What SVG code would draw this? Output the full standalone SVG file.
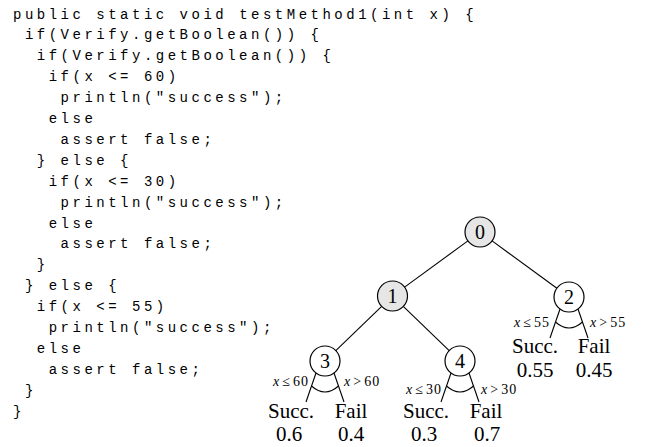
<svg xmlns="http://www.w3.org/2000/svg" width="647" height="447" viewBox="0 0 647 447">
<style>
.code{font-family:"Liberation Mono",monospace;font-size:14px;letter-spacing:3.5px;fill:#000}
.nd{fill:#fff;stroke:#000;stroke-width:1.2}
.nd.g{fill:#e6e6e6}
.num{font-family:"Liberation Serif",serif;font-size:20px;text-anchor:middle;fill:#000}
.lf{font-family:"Liberation Serif",serif;font-size:21px;text-anchor:middle;fill:#000}
.cond{font-family:"Liberation Serif",serif;font-size:14px;fill:#000}
.cond .v{font-style:italic}
.cond .n{letter-spacing:1px}
.e{stroke:#000;stroke-width:1.1;fill:none}
</style>
<rect width="647" height="447" fill="#fff"/>
<g id="code">
<text class="code" x="13" y="18.5">public static void testMethod1(int x) {</text>
<text class="code" x="24.9" y="39.4">if(Verify.getBoolean()) {</text>
<text class="code" x="36.8" y="60.3">if(Verify.getBoolean()) {</text>
<text class="code" x="48.7" y="81.2">if(x &lt;= 60)</text>
<text class="code" x="60.6" y="102.1">println("success");</text>
<text class="code" x="48.7" y="123">else</text>
<text class="code" x="60.6" y="143.9">assert false;</text>
<text class="code" x="36.8" y="164.8">} else {</text>
<text class="code" x="48.7" y="185.7">if(x &lt;= 30)</text>
<text class="code" x="60.6" y="206.6">println("success");</text>
<text class="code" x="48.7" y="227.5">else</text>
<text class="code" x="60.6" y="248.4">assert false;</text>
<text class="code" x="36.8" y="269.3">}</text>
<text class="code" x="24.9" y="290.2">} else {</text>
<text class="code" x="36.8" y="311.1">if(x &lt;= 55)</text>
<text class="code" x="48.7" y="332">println("success");</text>
<text class="code" x="36.8" y="352.9">else</text>
<text class="code" x="48.7" y="373.8">assert false;</text>
<text class="code" x="24.9" y="394.7">}</text>
<text class="code" x="13" y="415.6">}</text>
</g>
<g id="connectors">
<line class="e" x1="467.9" y1="240.9" x2="404.6" y2="287.1"/>
<line class="e" x1="492.1" y1="240.9" x2="556.9" y2="288.2"/>
<line class="e" x1="381.7" y1="306.4" x2="335.8" y2="350.6"/>
<line class="e" x1="403.3" y1="306.4" x2="449.2" y2="350.6"/>
<line class="e" x1="560" y1="309" x2="550" y2="338"/>
<line class="e" x1="578" y1="309" x2="588" y2="338"/>
<path class="e" d="M555.5,322 Q569,334 582.5,322"/>
<line class="e" x1="316" y1="373" x2="306" y2="402"/>
<line class="e" x1="334" y1="373" x2="344" y2="402"/>
<path class="e" d="M311.5,386 Q325,398 338.5,386"/>
<line class="e" x1="451" y1="373" x2="441" y2="402"/>
<line class="e" x1="469" y1="373" x2="479" y2="402"/>
<path class="e" d="M446.5,386 Q460,398 473.5,386"/>
</g>
<g id="node0"><circle class="nd g" cx="480" cy="232" r="15"/><text class="num" x="480" y="239">0</text></g>
<g id="node1"><circle class="nd g" cx="392.5" cy="296" r="15"/><text class="num" x="392.5" y="303">1</text></g>
<g id="node2"><circle class="nd" cx="569" cy="297" r="15"/><text class="num" x="569" y="304">2</text>
<text class="cond" x="550" y="327" text-anchor="end"><tspan class="v">x</tspan><tspan dx="3">≤</tspan><tspan class="n" dx="3">55</tspan></text>
<text class="cond" x="590" y="327"><tspan class="v">x</tspan><tspan dx="3">&gt;</tspan><tspan class="n" dx="3">55</tspan></text>
<text class="lf" x="535" y="353">Succ.</text><text class="lf" x="535" y="377">0.55</text>
<text class="lf" x="594" y="353">Fail</text><text class="lf" x="594" y="377">0.45</text>
</g>
<g id="node3"><circle class="nd" cx="325" cy="361" r="15"/><text class="num" x="325" y="368">3</text>
<text class="cond" x="309" y="386" text-anchor="end"><tspan class="v">x</tspan><tspan dx="3">≤</tspan><tspan class="n" dx="3">60</tspan></text>
<text class="cond" x="344" y="386"><tspan class="v">x</tspan><tspan dx="3">&gt;</tspan><tspan class="n" dx="3">60</tspan></text>
<text class="lf" x="291" y="418">Succ.</text><text class="lf" x="289" y="441">0.6</text>
<text class="lf" x="351" y="418">Fail</text><text class="lf" x="351" y="441">0.4</text>
</g>
<g id="node4"><circle class="nd" cx="460" cy="361" r="15"/><text class="num" x="460" y="368">4</text>
<text class="cond" x="442" y="394" text-anchor="end"><tspan class="v">x</tspan><tspan dx="3">≤</tspan><tspan class="n" dx="3">30</tspan></text>
<text class="cond" x="481" y="394"><tspan class="v">x</tspan><tspan dx="3">&gt;</tspan><tspan class="n" dx="3">30</tspan></text>
<text class="lf" x="426" y="418">Succ.</text><text class="lf" x="424" y="441">0.3</text>
<text class="lf" x="486" y="418">Fail</text><text class="lf" x="487" y="441">0.7</text>
</g>
</svg>
